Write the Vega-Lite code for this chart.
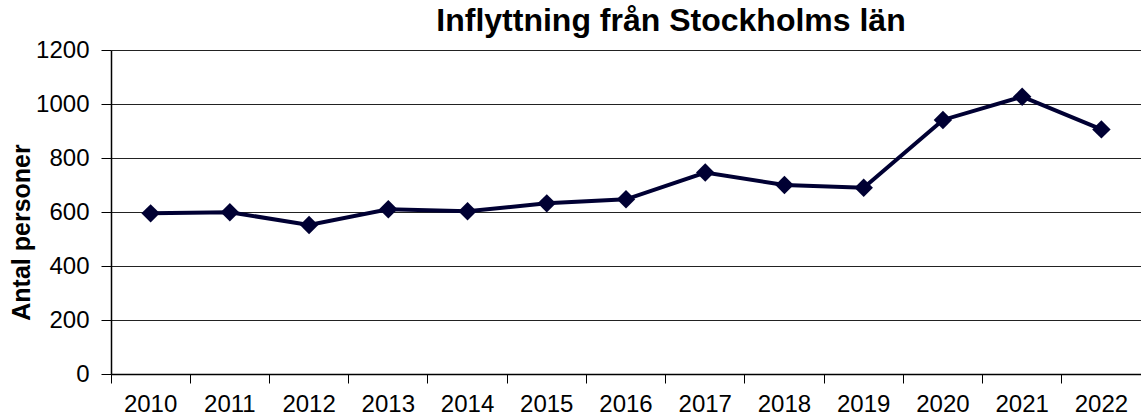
{
  "$schema": "https://vega.github.io/schema/vega-lite/v6.json",
  "autosize": {"type": "none"},
  "width": 1030,
  "height": 324,
  "padding": {"left": 111, "top": 50, "right": 0, "bottom": 43},
  "background": "white",
  "config": {
    "font": "Liberation Sans",
    "view": {"stroke": null}
  },
  "title": {
    "text": "Inflyttning från Stockholms län",
    "font": "Liberation Sans",
    "fontSize": 32,
    "fontWeight": "bold",
    "color": "black",
    "anchor": "middle",
    "frame": "group",
    "dx": 45,
    "dy": 40,
    "offset": 15,
    "baseline": "alphabetic"
  },
  "data": {
    "values": [
      {"year": "2010", "value": 595},
      {"year": "2011", "value": 599},
      {"year": "2012", "value": 552},
      {"year": "2013", "value": 610},
      {"year": "2014", "value": 603},
      {"year": "2015", "value": 632},
      {"year": "2016", "value": 647},
      {"year": "2017", "value": 746},
      {"year": "2018", "value": 700},
      {"year": "2019", "value": 690},
      {"year": "2020", "value": 941},
      {"year": "2021", "value": 1027},
      {"year": "2022", "value": 906}
    ]
  },
  "encoding": {
    "x": {
      "field": "year",
      "type": "ordinal",
      "scale": {"type": "band", "paddingInner": 0, "paddingOuter": 0},
      "axis": {
        "title": null,
        "labelAngle": 0,
        "labelFontSize": 24,
        "labelColor": "black",
        "labelPadding": 9,
        "bandPosition": 0,
        "ticks": true,
        "tickSize": 9,
        "tickColor": "black",
        "domainColor": "black",
        "domainWidth": 1.5,
        "grid": false
      }
    },
    "y": {
      "field": "value",
      "type": "quantitative",
      "scale": {"domain": [0, 1200], "nice": false},
      "axis": {
        "values": [0, 200, 400, 600, 800, 1000, 1200],
        "format": "d",
        "title": "Antal personer",
        "titleFontSize": 25,
        "titleFontWeight": "bold",
        "titleColor": "black",
        "titleX": -90,
        "titleY": 182,
        "titleAngle": -90,
        "titleAlign": "center",
        "titleBaseline": "middle",
        "labelFontSize": 24,
        "labelColor": "black",
        "labelPadding": 12,
        "tickSize": 10,
        "tickColor": "black",
        "domainColor": "black",
        "domainWidth": 1.5,
        "grid": true,
        "gridColor": "#222222",
        "gridWidth": 1.2
      }
    }
  },
  "layer": [
    {
      "mark": {"type": "line", "color": "#000033", "strokeWidth": 4}
    },
    {
      "mark": {"type": "point", "shape": "diamond", "filled": true, "size": 340, "color": "#000033", "opacity": 1}
    }
  ]
}
